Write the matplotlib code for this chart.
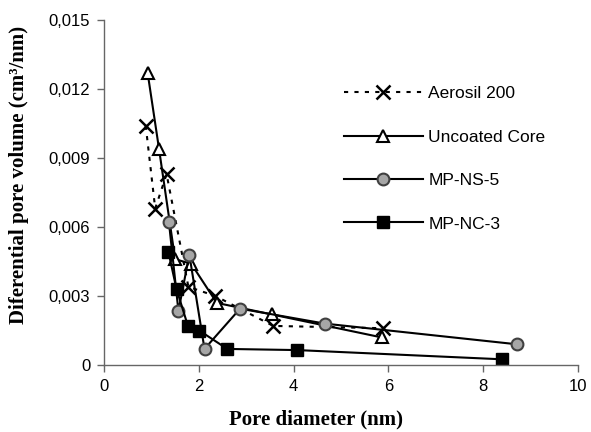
import matplotlib
matplotlib.use('Agg')
import matplotlib.pyplot as plt
from matplotlib.ticker import FuncFormatter

# datos (diametro de poro en nm, volumen en cm3/nm)
aerosil_x = [0.88, 1.08, 1.32, 1.78, 2.35, 3.57, 5.89]
aerosil_y = [0.0104, 0.0068, 0.0083, 0.0034, 0.0030, 0.0017, 0.0016]

uncoated_x = [0.92, 1.16, 1.50, 1.84, 2.38, 3.54, 5.86]
uncoated_y = [0.0127, 0.0094, 0.0046, 0.0044, 0.0027, 0.0022, 0.0012]

mpns_x = [1.37, 1.57, 1.80, 2.12, 2.87, 4.66, 8.72]
mpns_y = [0.0062, 0.00235, 0.0048, 0.0007, 0.00245, 0.0018, 0.0009]

mpnc_x = [1.36, 1.53, 1.77, 2.01, 2.60, 4.08, 8.39]
mpnc_y = [0.0049, 0.0033, 0.0017, 0.0015, 0.0007, 0.00065, 0.00025]

etiquetas = ['Aerosil 200', 'Uncoated Core', 'MP-NS-5', 'MP-NC-3']

plt.rcParams['font.family'] = ['Liberation Sans', 'DejaVu Sans']

fig = plt.figure(figsize=(5.91, 4.32), dpi=100)
ax = fig.add_axes([0.176, 0.155, 0.802, 0.799])

ax.plot(aerosil_x, aerosil_y, color='black', lw=1.5, linestyle=(0, (2, 3)),
        marker='x', markersize=10, markeredgewidth=1.8, label=etiquetas[0])
ax.plot(uncoated_x, uncoated_y, color='black', lw=1.5, marker='^', markersize=8,
        markerfacecolor='white', markeredgecolor='black', markeredgewidth=1.5, label=etiquetas[1])
ax.plot(mpns_x, mpns_y, color='black', lw=1.5, marker='o', markersize=8.5,
        markerfacecolor='#a6a6a6', markeredgecolor='#404040', markeredgewidth=1.5, label=etiquetas[2])
ax.plot(mpnc_x, mpnc_y, color='black', lw=1.5, marker='s', markersize=8,
        markerfacecolor='black', markeredgecolor='black', label=etiquetas[3])

ax.set_xlim(0, 10)
ax.set_ylim(0, 0.015)
ax.set_xticks([0, 2, 4, 6, 8, 10])
ax.set_yticks([0, 0.003, 0.006, 0.009, 0.012, 0.015])
# decimales con coma
ax.yaxis.set_major_formatter(FuncFormatter(lambda v, p: '0' if v == 0 else ('%.3f' % v).replace('.', ',')))

for lado in ['top', 'right']:
    ax.spines[lado].set_visible(False)
for lado in ['left', 'bottom']:
    ax.spines[lado].set_color('#666666')
    ax.spines[lado].set_linewidth(1)
ax.tick_params(direction='out', length=5, width=1, color='#666666', labelsize=12, pad=5)

ax.set_xlabel('Pore diameter (nm)', family='Liberation Serif', fontweight='bold', fontsize=15)
ax.set_ylabel('Diferential pore volume (cm³/nm)', family='Liberation Serif', fontweight='bold',
              fontsize=15)
# las etiquetas no estan centradas en el eje en el original
ax.xaxis.set_label_coords(0.447, -0.128)
ax.yaxis.set_label_coords(-0.158, 0.551)

ax.legend(loc='upper left', bbox_to_anchor=(344 / 591, 1 - 86 / 432), bbox_transform=fig.transFigure,
          frameon=False, fontsize=12.5, handlelength=4.55, handletextpad=0.3, labelspacing=1.63,
          borderpad=0, borderaxespad=0)

plt.savefig('out.png', dpi=100)
